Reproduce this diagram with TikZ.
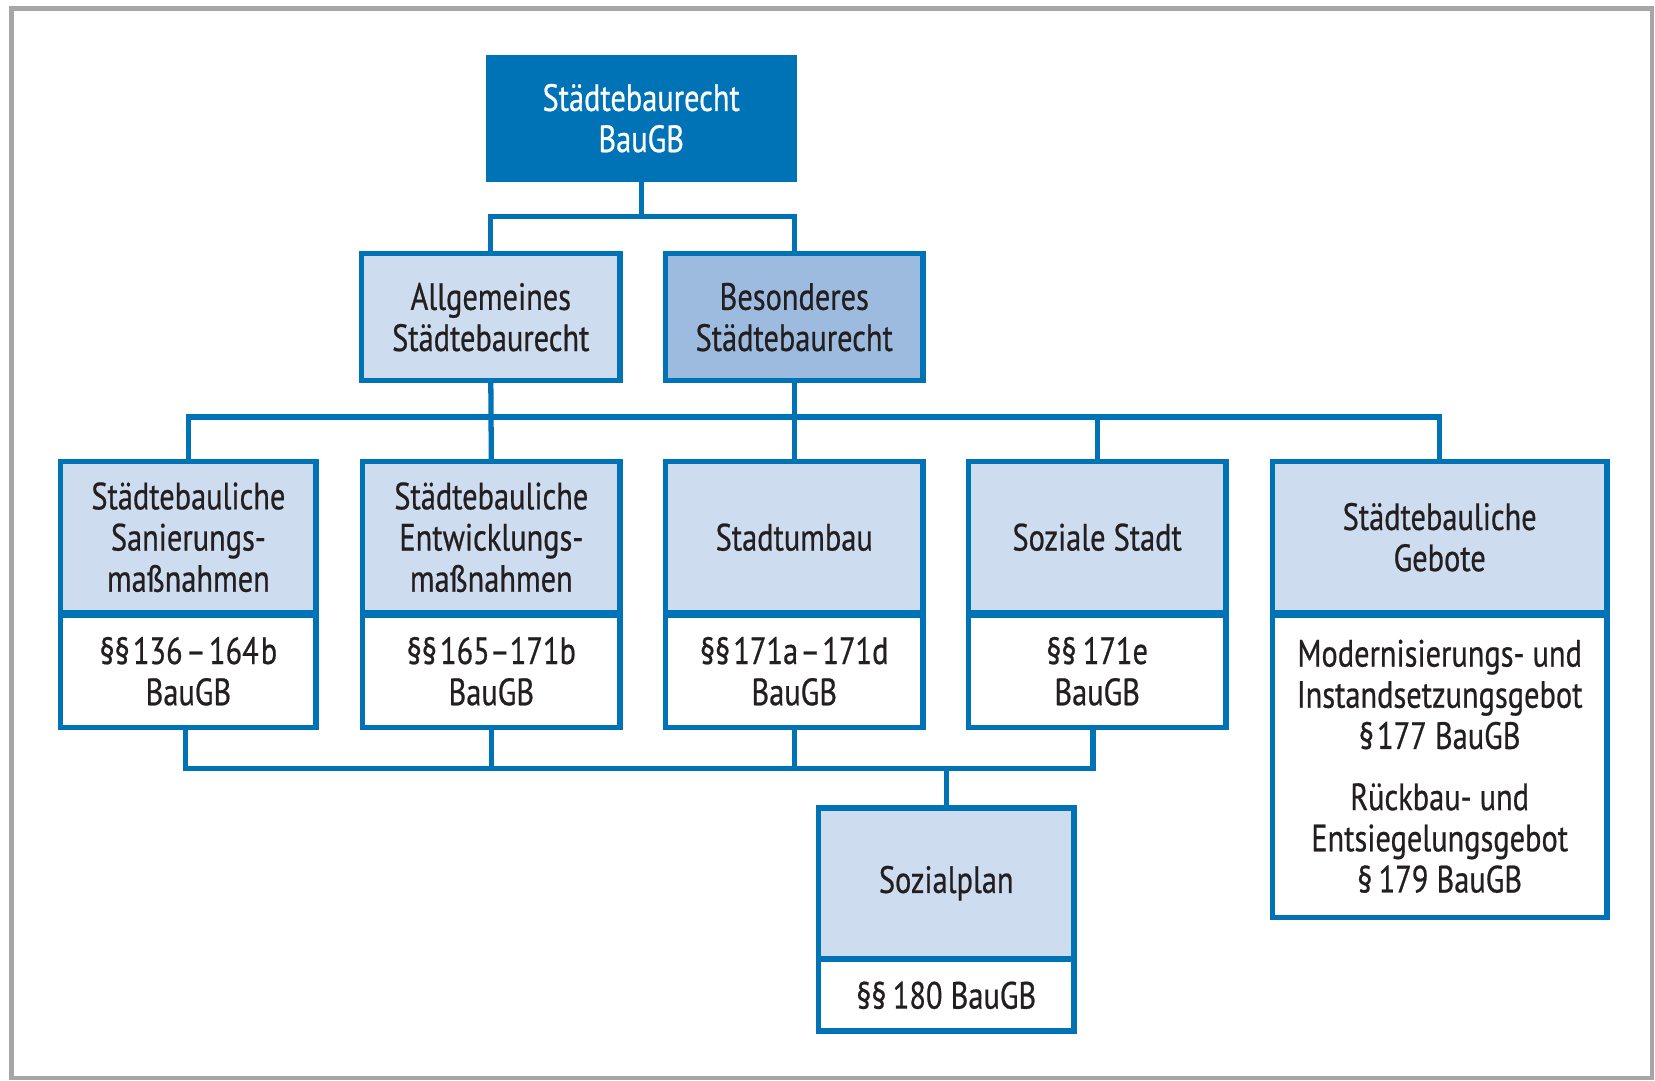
\documentclass[tikz,border=0pt]{standalone}
\usepackage{fontspec}
\setmainfont{PT Sans}[FakeStretch=0.8, FakeBold=0.6]
\usetikzlibrary{calc}
\definecolor{frameblue}{RGB}{0,114,182}
\definecolor{lightblue}{RGB}{205,220,238}
\definecolor{midblue}{RGB}{157,187,223}
\definecolor{textdark}{RGB}{35,31,32}
\definecolor{framegray}{RGB}{166,166,166}
\newcommand{\tk}{\kern3pt}

\begin{document}
\begin{tikzpicture}[x=1pt,y=-1pt,
  every node/.style={font=\fontsize{36}{39}\selectfont, text=textdark,
    align=center, inner sep=0pt, outer sep=0pt},
  box/.style={draw=frameblue, line width=5pt, rectangle},
  head/.style={box, fill=lightblue},
  headmid/.style={box, fill=midblue},
  body/.style={box, fill=white},
  conn/.style={draw=frameblue, line width=5pt, line join=miter},
]

\useasboundingbox (0,0) rectangle (1568,1024);
\draw[framegray, line width=4pt] (11,8) rectangle (1565,1021);

% root
\node[fill=frameblue, text=white, minimum width=295pt, minimum height=120pt]
  (root) at (607.5,112) {Städtebaurecht\\BauGB};

% second level
\node[head, minimum width=245pt, minimum height=120pt]
  (allg) at (465,300.5) {Allgemeines\\Städtebaurecht};
\node[headmid, minimum width=244pt, minimum height=120pt]
  (bes) at (752.5,300.5) {Besonderes\\Städtebaurecht};

% third level: headers
\node[head, minimum width=242pt, minimum height=143.5pt]
  (h1) at (178.5,509) {Städtebauliche\\Sanierungs-\\maßnahmen};
\node[head, minimum width=244pt, minimum height=143.5pt]
  (h2) at (465.5,509) {Städtebauliche\\Entwicklungs-\\maßnahmen};
\node[head, minimum width=244pt, minimum height=143.5pt]
  (h3) at (752.5,509) {Stadtumbau};
\node[head, minimum width=244pt, minimum height=143.5pt]
  (h4) at (1039.5,509) {Soziale Stadt};
\node[head, minimum width=317pt, minimum height=143.5pt]
  (h5) at (1364,509) {Städtebauliche\\Gebote};

% third level: bodies
\node[body, minimum width=242pt, minimum height=106.5pt]
  (b1) at (178.5,636) {§§\tk136\tk–\tk164\kern2pt b\\BauGB};
\node[body, minimum width=244pt, minimum height=106.5pt]
  (b2) at (465.5,636) {§§\tk165–171b\\BauGB};
\node[body, minimum width=244pt, minimum height=106.5pt]
  (b3) at (752.5,636) {§§\tk171a\kern2pt–\kern2pt171d\\BauGB};
\node[body, minimum width=244pt, minimum height=106.5pt]
  (b4) at (1039.5,636) {§§\,171e\\BauGB};
\node[body, minimum width=317pt, minimum height=286.5pt]
  (b5) at (1364,726) {Modernisierungs- und\\Instandsetzungsgebot\\§\tk177 BauGB\\[19pt]
    Rückbau- und\\Entsiegelungsgebot\\§\,179 BauGB};

% Sozialplan
\node[head, minimum width=242pt, minimum height=142.5pt]
  (sh) at (896.5,836.75) {Sozialplan};
\node[body, minimum width=242pt, minimum height=67.5pt]
  (sb) at (896.5,943) {§§\,180 BauGB};

% connectors: root to second level
\draw[conn] (root.south) -- ++(0,33) coordinate (j1);
\draw[conn] (allg.north) |- (j1) -| (bes.north);

% connectors: second level to third level
\coordinate (bus) at (0,395);
\draw[conn] (h1.north) |- (bus -| h5.north) -- (h5.north);
\draw[conn] (allg.south) -- (h2.north);
\draw[conn] (bes.south) -- (h3.north);
\draw[conn] (h4.north) -- (h4.north |- bus);

% connectors: measures to Sozialplan
\coordinate (low) at (0,728);
\coordinate (d1) at ($(b1.south)+(-3,0)$);
\coordinate (d4) at ($(b4.south)+(-4,0)$);
\draw[conn] (d1) |- (low -| d4) -- (d4);
\draw[conn] (b2.south) -- (b2.south |- low);
\draw[conn] (b3.south) -- (b3.south |- low);
\draw[conn] (sh.north) -- (sh.north |- low);

\end{tikzpicture}
\end{document}
